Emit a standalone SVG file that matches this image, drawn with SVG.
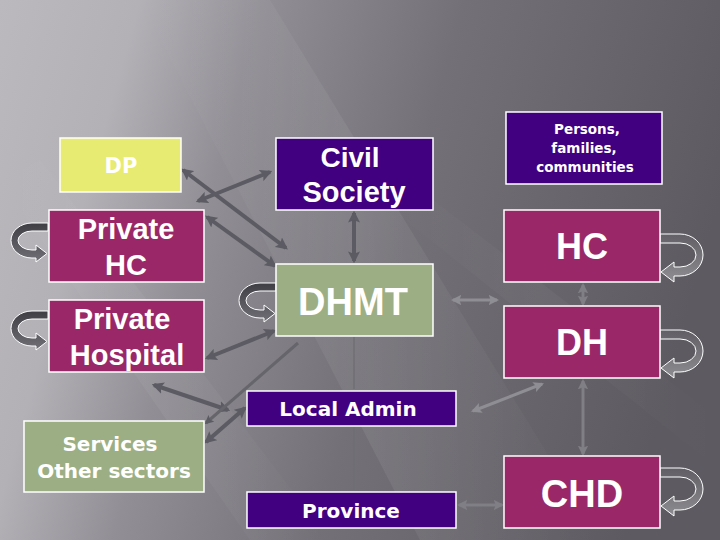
<svg xmlns="http://www.w3.org/2000/svg" width="720" height="540" viewBox="0 0 720 540">
<defs>
<linearGradient id="bg" gradientUnits="userSpaceOnUse" x1="0" y1="0" x2="720" y2="200">
<stop offset="0" stop-color="#bbb9be"/>
<stop offset="0.18" stop-color="#b3b1b6"/>
<stop offset="0.34" stop-color="#918f95"/>
<stop offset="0.6" stop-color="#737177"/>
<stop offset="1" stop-color="#5d5b61"/>
</linearGradient>
<linearGradient id="streak" x1="0" y1="0" x2="1" y2="0">
<stop offset="0" stop-color="#fff" stop-opacity="0"/>
<stop offset="0.5" stop-color="#fff" stop-opacity="0.07"/>
<stop offset="1" stop-color="#fff" stop-opacity="0"/>
</linearGradient>
<linearGradient id="loopL" x1="0" y1="0" x2="0" y2="1">
<stop offset="0" stop-color="#3e3e44"/>
<stop offset="1" stop-color="#707076"/>
</linearGradient>
<linearGradient id="loopR" x1="0" y1="0" x2="0" y2="1">
<stop offset="0" stop-color="#fff" stop-opacity="0.02"/>
<stop offset="1" stop-color="#fff" stop-opacity="0.3"/>
</linearGradient>
<marker id="ahD" viewBox="0 0 10 10" refX="8" refY="5" markerWidth="3" markerHeight="3" orient="auto-start-reverse">
<path d="M0,0 L10,5 L0,10 L2,5 Z" fill="#5c5b63"/>
</marker>
<marker id="ahL" viewBox="0 0 10 10" refX="8" refY="5" markerWidth="3.5" markerHeight="3.5" orient="auto-start-reverse">
<path d="M0,0 L10,5 L0,10 L2,5 Z" fill="#8f8e94"/>
</marker>
<marker id="ahM" viewBox="0 0 10 10" refX="8" refY="5" markerWidth="3.5" markerHeight="3.5" orient="auto-start-reverse">
<path d="M0,0 L10,5 L0,10 L2,5 Z" fill="#807f85"/>
</marker>
<path id="loopLeft" d="M48,223 L32,223 A21,17.5 0 0 0 32,258 L36,258 L36,262 L47,253.5 L36,245 L36,250 L32,250 A14,9.5 0 0 1 32,231 L48,231 Z"/>
<path id="loopRight" d="M660,234 L680,234 A23,21 0 0 1 680,276 L674,276 L674,282 L661,272 L674,262 L674,267 L680,267 A16,12 0 0 0 680,243 L660,243 Z"/>
</defs>
<style>
.box{stroke:#ffffff;stroke-width:1.5}
.yel{fill:#e7eb72}
.pur{fill:#41007f}
.mag{fill:#9a2868}
.grn{fill:#9cae84}
.big{font-family:"Liberation Sans",Arial,sans-serif;font-weight:bold;fill:#ffffff;text-anchor:middle}
.sm{font-family:"DejaVu Sans",Verdana,sans-serif;font-weight:bold;fill:#ffffff;text-anchor:middle}
.dk{stroke:#5c5b63;stroke-width:4;fill:none;marker-start:url(#ahD);marker-end:url(#ahD)}
.lt{stroke:#8f8e94;stroke-width:3;fill:none;marker-start:url(#ahL);marker-end:url(#ahL)}
.md{stroke:#807f85;stroke-width:3;fill:none;marker-start:url(#ahM);marker-end:url(#ahM)}
.ll{fill:url(#loopL);stroke:#ffffff;stroke-width:1}
.lr{fill:url(#loopR);stroke:#ffffff;stroke-width:1}
</style>
<rect x="0" y="0" width="720" height="540" fill="url(#bg)"/>
<polygon points="140,0 270,0 600,540 420,540" fill="url(#streak)"/>
<polygon points="0,180 40,160 330,540 250,540" fill="url(#streak)" opacity="0.7"/>
<polygon points="380,200 420,190 720,420 720,470" fill="url(#streak)" opacity="0.5"/>

<g id="connectors">
<line class="dk" x1="183" y1="170" x2="286" y2="248"/>
<line class="dk" x1="198" y1="201" x2="270" y2="172"/>
<line class="dk" x1="207" y1="217" x2="275" y2="266"/>
<line class="dk" x1="354" y1="213" x2="354" y2="261"/>
<line class="dk" x1="207" y1="358" x2="274" y2="331"/>
<line class="dk" x1="154" y1="385" x2="228" y2="410"/>
<line stroke="#66656c" stroke-width="3" fill="none" marker-start="url(#ahD)" x1="206" y1="423" x2="298" y2="343"/>
<line class="dk" x1="206" y1="442" x2="245" y2="408"/>
<line class="md" x1="459" y1="505" x2="502" y2="505"/>
<line class="lt" x1="453" y1="300" x2="497" y2="300"/>
<line class="md" x1="583" y1="285" x2="583" y2="304"/>
<line class="md" x1="583" y1="381" x2="583" y2="454"/>
<line class="lt" x1="473" y1="411" x2="542" y2="384"/>
<line stroke="#6f6e74" stroke-width="2" opacity="0.7" x1="354" y1="337" x2="354" y2="389"/>
<line stroke="#6f6e74" stroke-width="2" opacity="0.7" x1="354" y1="427" x2="354" y2="490"/>
</g>

<g id="loops">
<use href="#loopLeft" class="ll"/>
<use href="#loopLeft" class="ll" transform="translate(0,88)"/>
<use href="#loopLeft" class="ll" transform="translate(228,60)"/>
<use href="#loopRight" class="lr"/>
<use href="#loopRight" class="lr" transform="translate(0,96)"/>
<use href="#loopRight" class="lr" transform="translate(0,234)"/>
</g>

<g id="dp">
<rect class="box yel" x="60" y="138" width="121" height="54"/>
<text class="sm" x="121" y="173" font-size="21">DP</text>
</g>
<g id="civil-society">
<rect class="box pur" x="276" y="138" width="157" height="72"/>
<text class="big" x="350" y="167" font-size="28">Civil</text>
<text class="big" x="354" y="202" font-size="29">Society</text>
</g>
<g id="persons">
<rect class="box pur" x="506" y="112" width="156" height="72"/>
<text class="sm" x="587" y="134" font-size="13.5">Persons,</text>
<text class="sm" x="584" y="153" font-size="13.5">families,</text>
<text class="sm" x="585" y="172" font-size="13.5">communities</text>
</g>
<g id="private-hc">
<rect class="box mag" x="49" y="210" width="155" height="72"/>
<text class="big" x="126" y="239" font-size="29">Private</text>
<text class="big" x="126" y="275" font-size="29">HC</text>
</g>
<g id="private-hospital">
<rect class="box mag" x="49" y="300" width="155" height="72"/>
<text class="big" x="122" y="329" font-size="29">Private</text>
<text class="big" x="127" y="365" font-size="29">Hospital</text>
</g>
<g id="dhmt">
<rect class="box grn" x="276" y="264" width="157" height="72"/>
<text class="big" x="353" y="315" font-size="38">DHMT</text>
</g>
<g id="hc">
<rect class="box mag" x="504" y="210" width="156" height="72"/>
<text class="big" x="582" y="259" font-size="36">HC</text>
</g>
<g id="dh">
<rect class="box mag" x="504" y="306" width="156" height="72"/>
<text class="big" x="582" y="355" font-size="36">DH</text>
</g>
<g id="local-admin">
<rect class="box pur" x="247" y="391" width="209" height="35"/>
<text class="sm" x="348" y="416" font-size="20">Local Admin</text>
</g>
<g id="services">
<rect class="box grn" x="24" y="421" width="180" height="71"/>
<text class="sm" x="110" y="451" font-size="20">Services</text>
<text class="sm" x="114" y="478" font-size="20">Other sectors</text>
</g>
<g id="province">
<rect class="box pur" x="247" y="492" width="209" height="36"/>
<text class="sm" x="351" y="518" font-size="20">Province</text>
</g>
<g id="chd">
<rect class="box mag" x="504" y="456" width="156" height="72"/>
<text class="big" x="582" y="507" font-size="38">CHD</text>
</g>
</svg>
